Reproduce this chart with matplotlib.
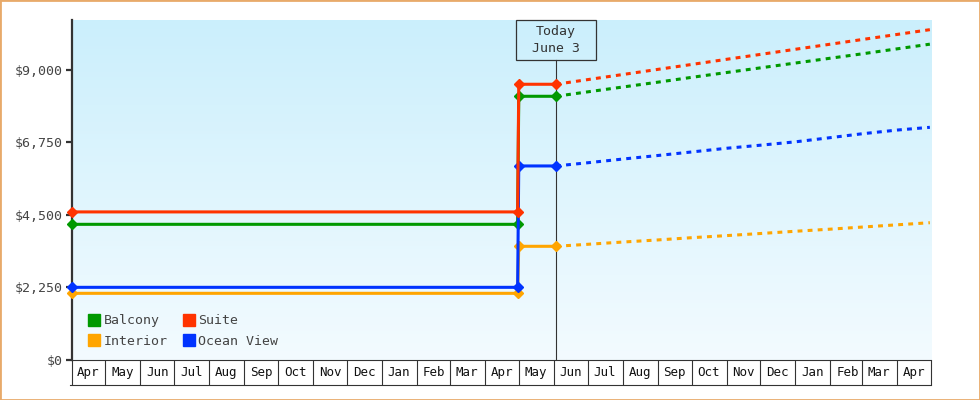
import matplotlib
matplotlib.use("Agg")
import matplotlib.pyplot as plt
import matplotlib.dates as mdates
import numpy as np
import pandas as pd
from matplotlib.lines import Line2D
from matplotlib.patches import Rectangle
from matplotlib.colors import LinearSegmentedColormap
from matplotlib.ticker import FuncFormatter, FixedLocator
from matplotlib.transforms import blended_transform_factory

plt.rcParams['font.family'] = ['DejaVu Sans Mono']

# price history (solid lines)
hist_dates = ["2023-04-01", "2024-04-30", "2024-05-01", "2024-06-03"]
balcony_hist = [4210, 4210, 8183, 8183]
suite_hist = [4595, 4595, 8556, 8556]
interior_hist = [2069, 2069, 3528, 3528]
ocean_hist = [2255, 2255, 6021, 6021]

# forecast (dotted lines)
fc_dates = ["2024-06-03", "2024-07-01", "2024-08-01", "2024-09-01", "2024-10-01",
            "2024-11-01", "2024-12-01", "2025-01-01", "2025-02-01", "2025-03-01",
            "2025-04-01", "2025-04-30"]
balcony_fc = [8183, 8320, 8470, 8620, 8770, 8920, 9065, 9215, 9365, 9500, 9655, 9800]
suite_fc = [8556, 8700, 8858, 9017, 9170, 9330, 9483, 9642, 9800, 9944, 10102, 10250]
interior_fc = [3528, 3590, 3660, 3725, 3795, 3860, 3925, 3995, 4060, 4125, 4195, 4260]
ocean_fc = [6021, 6120, 6235, 6345, 6455, 6570, 6665, 6770, 6900, 7020, 7135, 7220]

today = "2024-06-03"
today_label = "Today\nJune 3"
x_start, x_end = "2023-04-01", "2025-05-01"
y_ticks = [0, 2250, 4500, 6750, 9000]

colors = {'Balcony': '#009900', 'Suite': '#ff3300',
          'Interior': '#ffa500', 'Ocean View': '#0033ff'}
ink = '#333333'

fig = plt.figure(figsize=(9.8, 4.0), dpi=100)
ax = fig.add_axes([71.5 / 980, 40 / 400, 859.5 / 980, 340 / 400])

# background gradient
bg = LinearSegmentedColormap.from_list('bg', ['#cbeffc', '#f3fbff'])
ax.imshow(np.linspace(0, 1, 256).reshape(-1, 1), cmap=bg, aspect='auto',
          extent=[0, 1, 0, 1], transform=ax.transAxes, zorder=0)

hd = pd.to_datetime(hist_dates)
fd = pd.to_datetime(fc_dates)

series = [('Interior', interior_hist, interior_fc),
          ('Balcony', balcony_hist, balcony_fc),
          ('Ocean View', ocean_hist, ocean_fc),
          ('Suite', suite_hist, suite_fc)]
for i, (name, hv, fv) in enumerate(series):
    c = colors[name]
    ax.plot(fd, fv, color=c, lw=2.2, linestyle=(0, (1.6, 1.7)),
            dash_capstyle='butt', zorder=3 + i * 0.1)
    ax.plot(hd, hv, color=c, lw=2.2, marker='D', ms=5.2, mec=c,
            clip_on=False, zorder=3.5 + i * 0.1)

ax.set_xlim(pd.Timestamp(x_start), pd.Timestamp(x_end))
ax.set_ylim(0, 10550)

# today marker
t = mdates.date2num(pd.Timestamp(today))
bt = blended_transform_factory(ax.transData, ax.transAxes)
box_bottom = (360 - 60.3) / 340
ax.plot([t, t], [0, box_bottom], color=ink, lw=0.8, transform=bt, zorder=2)
half_w = 40.2 / 1.1294
ax.add_patch(Rectangle((t - half_w, box_bottom), 2 * half_w, 1 - box_bottom,
                       transform=bt, fill=False, edgecolor=ink, lw=0.9,
                       clip_on=False, zorder=4))
ax.text(t, (1 + box_bottom) / 2, today_label, transform=bt, ha='center',
        va='center', fontsize=9.5, color=ink, linespacing=1.45, zorder=4)

# y axis
ax.yaxis.set_major_locator(FixedLocator(y_ticks))
ax.yaxis.set_major_formatter(FuncFormatter(lambda v, p: f"${v:,.0f}"))
ax.tick_params(axis='y', length=4, width=1.6, color=ink, labelsize=9.5,
               labelcolor='#444444', pad=2)

# x axis: month boxes
ax.xaxis.set_major_locator(mdates.MonthLocator())
ax.xaxis.set_major_formatter(plt.NullFormatter())
ax.xaxis.set_minor_locator(mdates.MonthLocator(bymonthday=16))
ax.xaxis.set_minor_formatter(mdates.DateFormatter('%b'))
ax.tick_params(axis='x', which='major', length=18, width=0.8, color=ink)
ax.tick_params(axis='x', which='minor', length=0, pad=4, labelsize=9,
               labelcolor='#111111')
box_y = -25 / 340
ax.plot([-1.5 / 859.5, 1], [box_y, box_y], color=ink, lw=0.8,
        transform=ax.transAxes, clip_on=False)

for s in ['top', 'right']:
    ax.spines[s].set_visible(False)
ax.spines['left'].set_color(ink)
ax.spines['left'].set_linewidth(1.6)
ax.spines['bottom'].set_color(ink)
ax.spines['bottom'].set_linewidth(0.8)

# legend
names = ['Balcony', 'Interior', 'Suite', 'Ocean View']
handles = [Line2D([0], [0], marker='s', linestyle='none', ms=8,
                  mfc=colors[n], mec=colors[n]) for n in names]
ax.legend(handles, names, ncol=2, loc='lower left', frameon=False,
          bbox_to_anchor=(0.02, 0.035), fontsize=9.5, handlelength=0.85,
          handletextpad=0.3, columnspacing=1.15, labelspacing=0.6,
          borderpad=0, borderaxespad=0, labelcolor='#444444')

fig.add_artist(Rectangle((0, 0), 1, 1, transform=fig.transFigure, fill=False,
                         edgecolor='#e8aa6a', lw=2))

fig.savefig('out.png', dpi=100)
